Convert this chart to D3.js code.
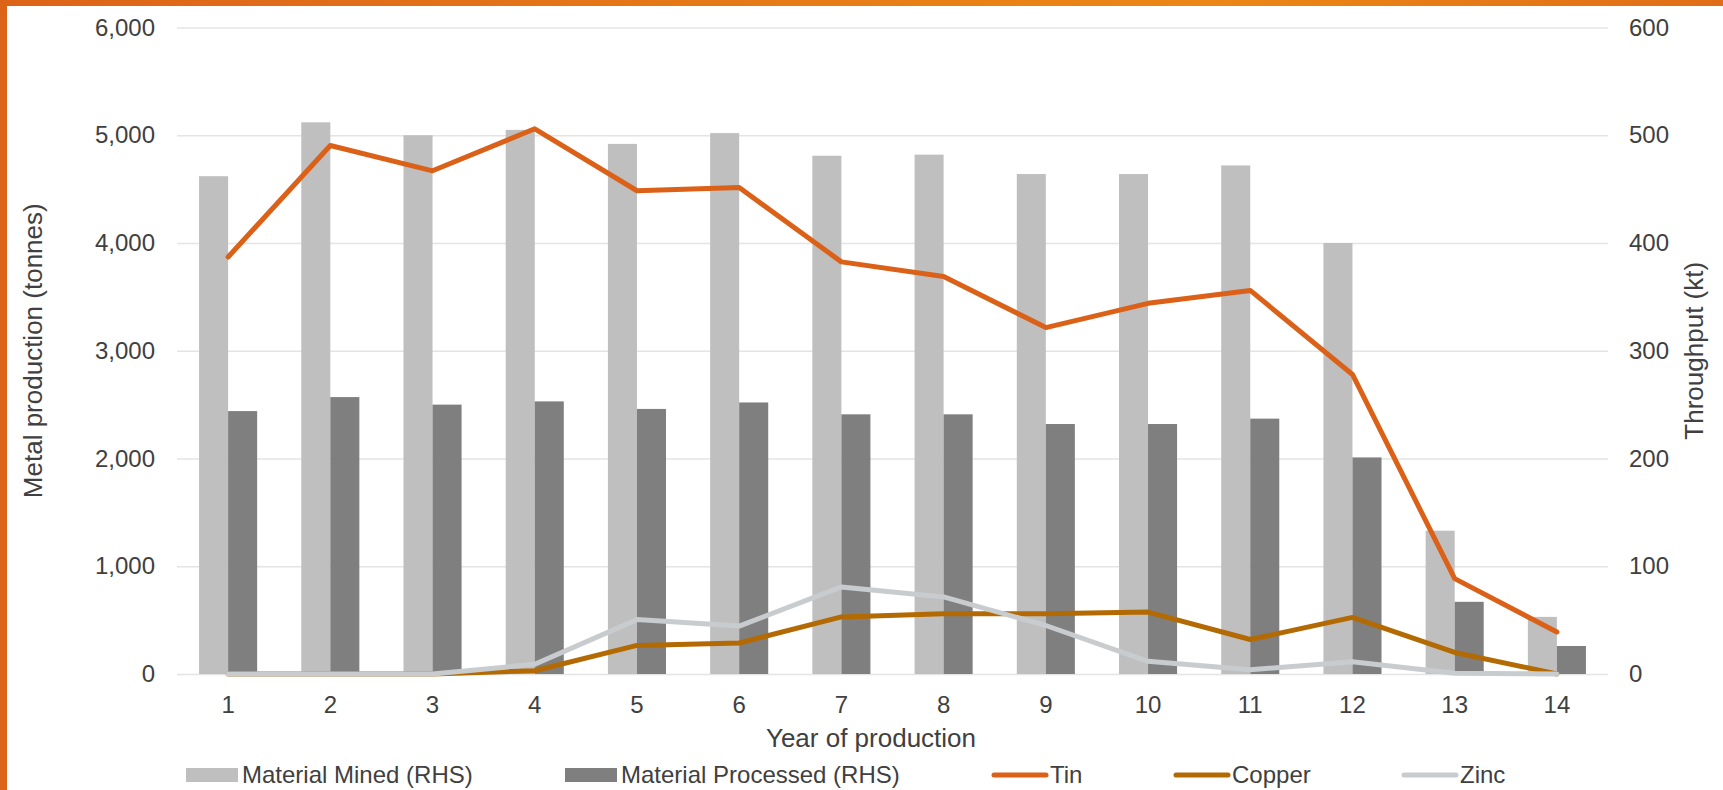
<!DOCTYPE html>
<html>
<head>
<meta charset="utf-8">
<script src="https://cdn.jsdelivr.net/npm/d3@7"></script>
<style>
  body { margin: 0; background: #fff; }
  svg { display: block; font-family: "Liberation Sans", Arial, sans-serif; }
</style>
</head>
<body>
<div id="viz"></div>
<script>
var years = [1, 2, 3, 4, 5, 6, 7, 8, 9, 10, 11, 12, 13, 14];
// throughput, kt (right axis)
var mined = [462, 512, 500, 505, 492, 502, 481, 482, 464, 464, 472, 400, 133, 53];
var processed = [244, 257, 250, 253, 246, 252, 241, 241, 232, 232, 237, 201, 67, 26];
// metal, tonnes (left axis)
var tin = [3870, 4905, 4670, 5060, 4485, 4515, 3825, 3690, 3215, 3440, 3560, 2780, 885, 390];
var copper = [0, 0, 0, 30, 265, 288, 530, 560, 560, 575, 320, 525, 200, 0];
var zinc = [0, 0, 0, 90, 505, 445, 808, 715, 450, 118, 40, 114, 7, 0];
var leftTicks = [0, 1000, 2000, 3000, 4000, 5000, 6000];
var rightTicks = [0, 100, 200, 300, 400, 500, 600];

var width = 1723,
    height = 790,
    plotLeft = 177,
    plotRight = 1608,
    plotTop = 27.5,
    plotBottom = 674;

var textColor = '#404040';

var x0 = d3.scaleBand()
    .domain(years)
    .range([plotLeft, plotRight])
    .padding(0);

var x1 = d3.scaleBand()
    .domain(['mined', 'processed'])
    .range([0, x0.bandwidth()])
    .paddingInner(0)
    .paddingOuter(0.76);

var yL = d3.scaleLinear().domain([0, 6000]).range([plotBottom, plotTop]);
var yR = d3.scaleLinear().domain([0, 600]).range([plotBottom, plotTop]);

var svg = d3.select('#viz').append('svg')
    .attr('width', width)
    .attr('height', height);

// orange frame
var grad = svg.append('defs').append('linearGradient')
    .attr('id', 'topbar').attr('x1', '0%').attr('x2', '100%');
grad.append('stop').attr('offset', '0%').attr('stop-color', '#dc6419');
grad.append('stop').attr('offset', '70%').attr('stop-color', '#ec8716');
grad.append('stop').attr('offset', '100%').attr('stop-color', '#e06e18');
svg.append('rect').attr('x', 0).attr('y', 0).attr('width', width).attr('height', 6).attr('fill', 'url(#topbar)');
svg.append('rect').attr('x', 0).attr('y', 0).attr('width', 7).attr('height', height).attr('fill', '#dc6419');

// gridlines
svg.append('g')
    .attr('transform', 'translate(' + plotLeft + ',0)')
    .call(d3.axisLeft(yL).tickValues(leftTicks).tickSize(-(plotRight - plotLeft)).tickFormat(''))
    .call(function(g) {
        g.select('.domain').remove();
        g.selectAll('line').attr('stroke', '#e4e4e4').attr('stroke-width', 1.5);
    });

// left axis labels
svg.append('g')
    .attr('transform', 'translate(' + (plotLeft - 12) + ',0)')
    .call(d3.axisLeft(yL).tickValues(leftTicks).tickSize(0).tickPadding(10).tickFormat(d3.format(',')))
    .call(function(g) {
        g.select('.domain').remove();
        g.selectAll('text').attr('fill', textColor).style('font-size', '24px').style('font-family', 'inherit');
    });

// right axis labels
svg.append('g')
    .attr('transform', 'translate(' + (plotRight + 11) + ',0)')
    .call(d3.axisRight(yR).tickValues(rightTicks).tickSize(0).tickPadding(10))
    .call(function(g) {
        g.select('.domain').remove();
        g.selectAll('text').attr('fill', textColor).style('font-size', '24px').style('font-family', 'inherit');
    });

// x axis labels
svg.append('g')
    .attr('transform', 'translate(0,' + (plotBottom + 8) + ')')
    .call(d3.axisBottom(x0).tickSize(0).tickPadding(14))
    .call(function(g) {
        g.select('.domain').remove();
        g.selectAll('text').attr('fill', textColor).style('font-size', '24px').style('font-family', 'inherit');
    });

// bars
var groups = svg.append('g').selectAll('g')
    .data(years)
    .enter().append('g')
    .attr('transform', function(d) { return 'translate(' + x0(d) + ',0)'; });

groups.append('rect')
    .attr('x', x1('mined'))
    .attr('width', x1.bandwidth())
    .attr('y', function(d, i) { return yR(mined[i]); })
    .attr('height', function(d, i) { return plotBottom - yR(mined[i]); })
    .attr('fill', '#bfbfbf');

groups.append('rect')
    .attr('x', x1('processed'))
    .attr('width', x1.bandwidth())
    .attr('y', function(d, i) { return yR(processed[i]); })
    .attr('height', function(d, i) { return plotBottom - yR(processed[i]); })
    .attr('fill', '#7f7f7f');

// lines
var line = d3.line()
    .x(function(d, i) { return x0(years[i]) + x0.bandwidth() / 2; })
    .y(function(d) { return yL(d); });

var series = [
    { name: 'Tin', values: tin, color: '#db6119' },
    { name: 'Copper', values: copper, color: '#b36a02' },
    { name: 'Zinc', values: zinc, color: '#c9ccce' }
];

svg.append('g').selectAll('path')
    .data(series)
    .enter().append('path')
    .attr('d', function(d) { return line(d.values); })
    .attr('fill', 'none')
    .attr('stroke', function(d) { return d.color; })
    .attr('stroke-width', 5)
    .attr('stroke-linejoin', 'round')
    .attr('stroke-linecap', 'round');

// axis titles
svg.append('text')
    .attr('x', 871)
    .attr('y', 747)
    .attr('text-anchor', 'middle')
    .attr('fill', textColor)
    .style('font-size', '26px')
    .text('Year of production');

svg.append('text')
    .attr('transform', 'translate(42,' + ((plotTop + plotBottom) / 2) + ') rotate(-90)')
    .attr('text-anchor', 'middle')
    .attr('fill', textColor)
    .style('font-size', '26px')
    .text('Metal production (tonnes)');

svg.append('text')
    .attr('transform', 'translate(1703,' + ((plotTop + plotBottom) / 2) + ') rotate(-90)')
    .attr('text-anchor', 'middle')
    .attr('fill', textColor)
    .style('font-size', '26px')
    .text('Throughput (kt)');

// legend
var legendItems = [
    { name: 'Material Mined (RHS)', color: '#bfbfbf', type: 'bar', x: 186 },
    { name: 'Material Processed (RHS)', color: '#7f7f7f', type: 'bar', x: 565 },
    { name: 'Tin', color: '#db6119', type: 'line', x: 992 },
    { name: 'Copper', color: '#b36a02', type: 'line', x: 1174 },
    { name: 'Zinc', color: '#c9ccce', type: 'line', x: 1402 }
];
var legendY = 775;

var leg = svg.append('g').selectAll('g')
    .data(legendItems)
    .enter().append('g')
    .attr('transform', function(d) { return 'translate(' + d.x + ',' + legendY + ')'; });

leg.filter(function(d) { return d.type === 'bar'; })
    .append('rect')
    .attr('x', 0).attr('y', -7).attr('width', 52).attr('height', 14)
    .attr('fill', function(d) { return d.color; });

leg.filter(function(d) { return d.type === 'line'; })
    .append('line')
    .attr('x1', 2).attr('x2', 54).attr('y1', 0).attr('y2', 0)
    .attr('stroke', function(d) { return d.color; })
    .attr('stroke-width', 5)
    .attr('stroke-linecap', 'round');

leg.append('text')
    .attr('x', function(d) { return d.type === 'bar' ? 56 : 58; })
    .attr('y', 0)
    .attr('dy', '0.35em')
    .attr('fill', textColor)
    .style('font-size', '24px')
    .text(function(d) { return d.name; });
</script>
</body>
</html>
